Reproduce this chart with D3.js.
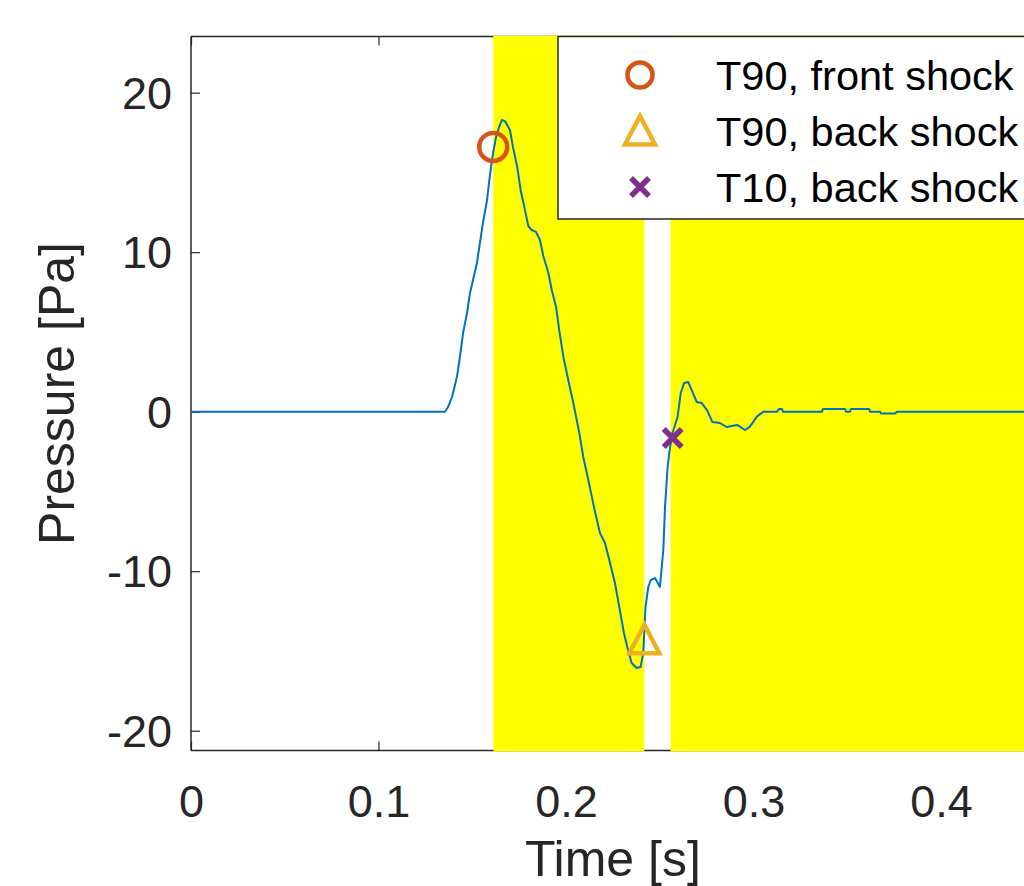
<!DOCTYPE html>
<html>
<head>
<meta charset="utf-8">
<script src="https://cdn.jsdelivr.net/npm/d3@7"></script>
<style>
  html, body { margin: 0; padding: 0; background: #fff; overflow: hidden; }
  svg { display: block; font-family: "Liberation Sans", Arial, sans-serif; }
</style>
</head>
<body>
<svg id="chart" width="1024" height="886"></svg>
<script>
// ---- data ----
const timeS = [0.0000, 0.1355, 0.1371, 0.1392, 0.1408, 0.1420, 0.1435, 0.1451, 0.1472, 0.1488,
  0.1504, 0.1525, 0.1541, 0.1557, 0.1579, 0.1589, 0.1600, 0.1611, 0.1627, 0.1643,
  0.1659, 0.1675, 0.1701, 0.1717, 0.1740, 0.1758, 0.1781, 0.1799, 0.1817, 0.1840,
  0.1861, 0.1879, 0.1906, 0.1924, 0.1947, 0.1964, 0.1986, 0.2012, 0.2039, 0.2071,
  0.2092, 0.2119, 0.2149, 0.2181, 0.2208, 0.2231, 0.2261, 0.2284, 0.2309, 0.2327,
  0.2350, 0.2377, 0.2398, 0.2412, 0.2424, 0.2439, 0.2452, 0.2475, 0.2501, 0.2519,
  0.2528, 0.2542, 0.2555, 0.2568, 0.2595, 0.2612, 0.2630, 0.2652, 0.2675, 0.2697,
  0.2724, 0.2752, 0.2781, 0.2821, 0.2857, 0.2912, 0.2955, 0.2981, 0.3018, 0.3052,
  0.3125, 0.3136, 0.3152, 0.3157, 0.3365, 0.3371, 0.3488, 0.3493, 0.3515, 0.3520,
  0.3616, 0.3621, 0.3675, 0.3680, 0.3755, 0.3765, 0.4500];
const pressurePa = [0.00, 0.00, 0.29, 0.92, 1.68, 2.30, 3.49, 4.93, 6.18, 7.44,
  8.26, 9.32, 10.58, 11.83, 13.27, 14.33, 15.33, 16.21, 17.22, 17.85,
  18.29, 18.20, 17.66, 16.60, 15.33, 13.90, 12.65, 11.64, 11.39, 11.27,
  10.76, 9.76, 8.69, 7.63, 6.57, 5.10, 3.43, 1.99, 0.54, -1.34,
  -2.84, -4.28, -5.97, -7.60, -8.23, -9.30, -10.74, -12.24, -13.87, -14.75,
  -15.75, -16.07, -16.00, -15.13, -12.24, -10.99, -10.55, -10.43, -10.99, -8.67,
  -5.97, -3.47, -2.21, -1.34, -0.33, 1.17, 1.80, 1.86, 1.23, 0.61,
  0.54, 0.10, -0.65, -0.71, -0.96, -0.83, -1.15, -0.94, -0.31, 0.00,
  0.00, 0.17, 0.17, 0.00, 0.00, 0.17, 0.17, 0.00, 0.00, 0.17,
  0.17, 0.00, 0.00, -0.12, -0.12, 0.00, 0.00];

const markerNames = ["T90, front shock", "T90, back shock", "T10, back shock"];
const markerTimes = [0.1612, 0.2418, 0.2569];
const markerValues = [16.6, -14.3, -1.65];
const markerShapes = ["circle", "triangle", "cross"];
const markerColors = ["#D95319", "#EDB120", "#7E2F8E"];

const shadeStart = [0.1612, 0.2558];
const shadeEnd = [0.2418, 0.45];

const xTicks = [0, 0.1, 0.2, 0.3, 0.4];
const yTicks = [-20, -10, 0, 10, 20];
const xDomain = [0, 0.45];
const yDomain = [-21.24, 23.52];

// ---- layout ----
const svg = d3.select("#chart");
const pL = 191, pR = 1034.75, pT = 36.5, pB = 750.5;
const x = d3.scaleLinear().domain(xDomain).range([pL, pR]);
const y = d3.scaleLinear().domain(yDomain).range([pB, pT]);
const axisColor = "#262626";
const fmt = d => String(d);

// axes box with ticks
const gx = svg.append("g").attr("transform", `translate(0,${pB})`)
  .call(d3.axisBottom(x).tickValues(xTicks).tickSize(-9).tickPadding(0).tickFormat(fmt));
const gxTop = svg.append("g").attr("transform", `translate(0,${pT})`)
  .call(d3.axisTop(x).tickValues(xTicks).tickSize(-9).tickFormat(""));
const gy = svg.append("g").attr("transform", `translate(${pL},0)`)
  .call(d3.axisLeft(y).tickValues(yTicks).tickSize(-9).tickPadding(0).tickFormat(fmt));
const gyR = svg.append("g").attr("transform", `translate(${pR},0)`)
  .call(d3.axisRight(y).tickValues(yTicks).tickSize(-9).tickFormat(""));

[gx, gxTop, gy, gyR].forEach(g => {
  g.select(".domain").attr("stroke", axisColor).attr("stroke-width", 1.5);
  g.selectAll(".tick line").attr("stroke", axisColor).attr("stroke-width", 1.2);
});
gx.selectAll(".domain").attr("d", `M${pL},0H${pR}`);
gxTop.selectAll(".domain").attr("d", `M${pL},0H${pR}`);
gy.selectAll(".domain").attr("d", `M0,${pT}V${pB}`);
gyR.selectAll(".domain").attr("d", `M0,${pT}V${pB}`);

gx.selectAll(".tick text")
  .attr("y", 66).attr("dy", 0)
  .attr("fill", axisColor).attr("font-size", 45)
  .attr("font-family", "Liberation Sans, Arial, sans-serif");
gy.selectAll(".tick text")
  .attr("x", -19).attr("dy", "0.35em")
  .attr("fill", axisColor).attr("font-size", 45)
  .attr("font-family", "Liberation Sans, Arial, sans-serif");

// shaded regions (drawn over the axes box like MATLAB patches)
svg.append("g").selectAll("rect").data(shadeStart).join("rect")
  .attr("x", (d, i) => x(d))
  .attr("width", (d, i) => x(shadeEnd[i]) - x(d))
  .attr("y", y(yDomain[1]) - 0.8)
  .attr("height", y(yDomain[0]) - y(yDomain[1]) + 1.6)
  .attr("fill", "#FFFF00");

// pressure line
const pts = timeS.map((t, i) => [t, pressurePa[i]]);
svg.append("path").datum(pts)
  .attr("fill", "none").attr("stroke", "#0072BD").attr("stroke-width", 2)
  .attr("stroke-linejoin", "round")
  .attr("d", d3.line().x(d => x(d[0])).y(d => y(d[1])));

// marker drawing
function drawMarker(g, shape, color, cx, cy, scale) {
  if (shape === "circle") {
    g.append("circle").attr("cx", cx).attr("cy", cy).attr("r", 14 * scale)
      .attr("fill", "none").attr("stroke", color).attr("stroke-width", 4.5);
  } else if (shape === "triangle") {
    const s = 15 * scale;
    g.append("path")
      .attr("d", `M${cx},${cy - s}L${cx + s},${cy + s * 0.9}L${cx - s},${cy + s * 0.9}Z`)
      .attr("fill", "none").attr("stroke", color).attr("stroke-width", 4.5)
      .attr("stroke-linejoin", "miter");
  } else {
    const s = 9 * scale;
    g.append("path")
      .attr("d", `M${cx - s},${cy - s}L${cx + s},${cy + s}M${cx - s},${cy + s}L${cx + s},${cy - s}`)
      .attr("fill", "none").attr("stroke", color).attr("stroke-width", 5.5);
  }
}
const gm = svg.append("g");
markerTimes.forEach((t, i) => drawMarker(gm, markerShapes[i], markerColors[i], x(t), y(markerValues[i]), 1));

// legend
const lg = svg.append("g");
lg.append("rect").attr("x", 558).attr("y", pT).attr("width", 472).attr("height", 182.5)
  .attr("fill", "#fff").attr("stroke", axisColor).attr("stroke-width", 1.5);
const rowY = [75, 131, 187];
markerNames.forEach((name, i) => {
  drawMarker(lg, markerShapes[i], markerColors[i], 640, rowY[i], i === 0 ? 0.9 : 1);
  lg.append("text").attr("x", 716).attr("y", rowY[i]).attr("dy", "0.36em")
    .attr("font-size", 41.5).attr("fill", "#000").text(name);
});

// axis labels
svg.append("text").attr("x", (pL + pR) / 2).attr("y", 876)
  .attr("text-anchor", "middle").attr("font-size", 50).attr("fill", axisColor)
  .text("Time [s]");
svg.append("text")
  .attr("transform", `translate(74,${(pT + pB) / 2}) rotate(-90)`)
  .attr("text-anchor", "middle").attr("font-size", 50).attr("fill", axisColor)
  .text("Pressure [Pa]");
</script>
</body>
</html>
